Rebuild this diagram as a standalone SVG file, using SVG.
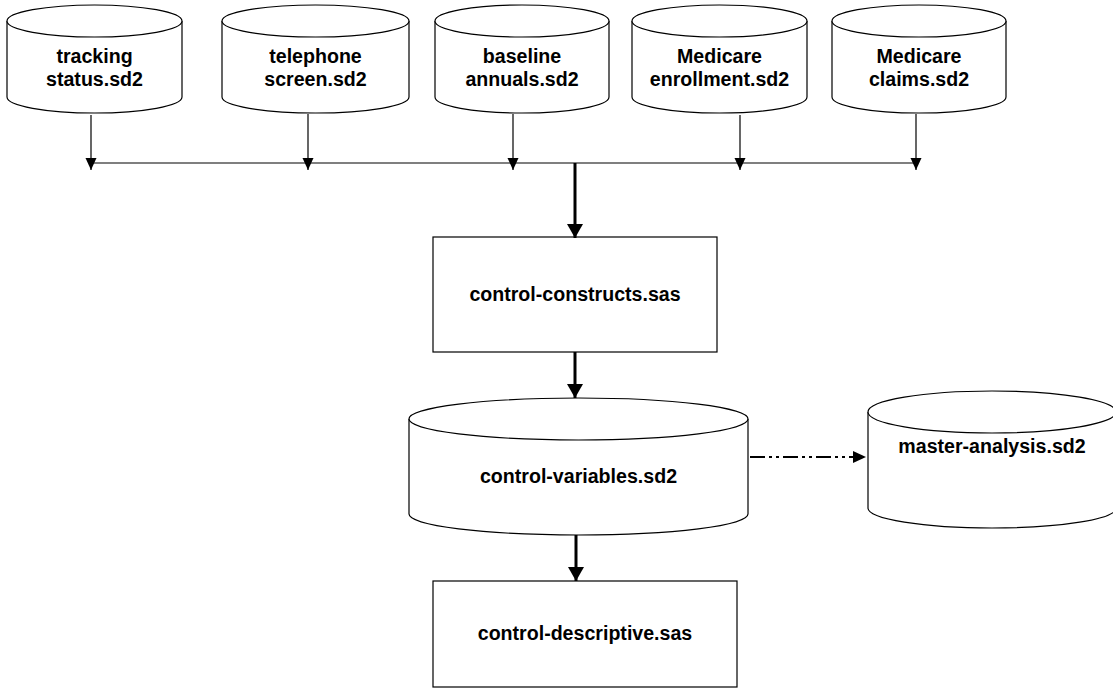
<svg xmlns="http://www.w3.org/2000/svg" width="1113" height="688" viewBox="0 0 1113 688">
<style>
.cyl{fill:#fff;stroke:#000;stroke-width:1.2}
.box{fill:#fff;stroke:#000;stroke-width:1.2}
.lbl{font-family:"Liberation Sans",Arial,sans-serif;font-weight:bold;font-size:19.6px;fill:#000;text-anchor:middle}
.thin{fill:none;stroke:#000;stroke-width:1.2}
.thick{fill:none;stroke:#000;stroke-width:3}
.dash{fill:none;stroke:#000;stroke-width:2;stroke-dasharray:15 4 3 4 3 4}
</style>
<defs>
<marker id="aThin" markerUnits="userSpaceOnUse" markerWidth="12" markerHeight="12" refX="12" refY="6" orient="auto" viewBox="0 0 12 12">
<path d="M0,0.5 L12,6 L0,11.5 Z" fill="#000"/>
</marker>
<marker id="aThick" markerUnits="userSpaceOnUse" markerWidth="14" markerHeight="16" refX="14" refY="8" orient="auto" viewBox="0 0 14 16">
<path d="M0,0 L14,8 L0,16 Z" fill="#000"/>
</marker>
<marker id="aDash" markerUnits="userSpaceOnUse" markerWidth="13" markerHeight="12" refX="13" refY="6" orient="auto" viewBox="0 0 13 12">
<path d="M0,0 L13,6 L0,12 Z" fill="#000"/>
</marker>
</defs>

<g id="tracking">
<path class="cyl" d="M7,21 A87.5,16 0 0 1 182,21 V97 A87.5,16 0 0 1 7,97 Z"/>
<path class="cyl" d="M7,21 A87.5,16 0 0 0 182,21"/>
<text class="lbl" x="94.5" y="63">tracking</text>
<text class="lbl" x="94.5" y="86">status.sd2</text>
</g>
<g id="telephone">
<path class="cyl" d="M222,21 A93.5,16 0 0 1 409,21 V97 A93.5,16 0 0 1 222,97 Z"/>
<path class="cyl" d="M222,21 A93.5,16 0 0 0 409,21"/>
<text class="lbl" x="315.5" y="63">telephone</text>
<text class="lbl" x="315.5" y="86">screen.sd2</text>
</g>
<g id="baseline">
<path class="cyl" d="M435,21 A87,16 0 0 1 609,21 V97 A87,16 0 0 1 435,97 Z"/>
<path class="cyl" d="M435,21 A87,16 0 0 0 609,21"/>
<text class="lbl" x="522" y="63">baseline</text>
<text class="lbl" x="522" y="86">annuals.sd2</text>
</g>
<g id="enrollment">
<path class="cyl" d="M632,21 A87.5,16 0 0 1 807,21 V97 A87.5,16 0 0 1 632,97 Z"/>
<path class="cyl" d="M632,21 A87.5,16 0 0 0 807,21"/>
<text class="lbl" x="719.5" y="63">Medicare</text>
<text class="lbl" x="719.5" y="86">enrollment.sd2</text>
</g>
<g id="claims">
<path class="cyl" d="M832,21 A87,16 0 0 1 1006,21 V97 A87,16 0 0 1 832,97 Z"/>
<path class="cyl" d="M832,21 A87,16 0 0 0 1006,21"/>
<text class="lbl" x="919" y="63">Medicare</text>
<text class="lbl" x="919" y="86">claims.sd2</text>
</g>

<g id="constructs">
<rect class="box" x="433" y="237" width="284" height="115"/>
<text class="lbl" x="575" y="301">control-constructs.sas</text>
</g>

<g id="variables">
<path class="cyl" d="M409,419 A169.5,21 0 0 1 748,419 V514 A169.5,21 0 0 1 409,514 Z"/>
<path class="cyl" d="M409,419 A169.5,21 0 0 0 748,419"/>
<text class="lbl" x="578.5" y="483">control-variables.sd2</text>
</g>

<g id="master">
<path class="cyl" d="M868,412 A124,21 0 0 1 1116,412 V508 A124,20 0 0 1 868,508 Z"/>
<path class="cyl" d="M868,412 A124,21 0 0 0 1116,412"/>
<text class="lbl" x="992" y="453">master-analysis.sd2</text>
</g>

<g id="descriptive">
<rect class="box" x="433" y="581" width="304" height="106"/>
<text class="lbl" x="585" y="640">control-descriptive.sas</text>
</g>

<g id="connectors">
<path class="thin" d="M91,163 H916"/>
<path class="thin" d="M91,115 V170" marker-end="url(#aThin)"/>
<path class="thin" d="M308,114 V170" marker-end="url(#aThin)"/>
<path class="thin" d="M513,114 V170" marker-end="url(#aThin)"/>
<path class="thin" d="M740,115 V170" marker-end="url(#aThin)"/>
<path class="thin" d="M916,114 V170" marker-end="url(#aThin)"/>
<path class="thick" d="M575,163 V238" marker-end="url(#aThick)"/>
<path class="thick" d="M575,352 V398" marker-end="url(#aThick)"/>
<path class="thick" d="M576,535 V581" marker-end="url(#aThick)"/>
<path class="dash" d="M750,457 H866" marker-end="url(#aDash)"/>
</g>
</svg>
